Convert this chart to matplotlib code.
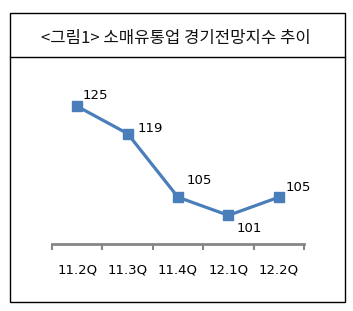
import matplotlib
matplotlib.use('Agg')
import matplotlib.pyplot as plt
from matplotlib.patches import Rectangle
from matplotlib.lines import Line2D

plt.rcParams['font.family'] = ['Noto Sans CJK KR', 'DejaVu Sans']

title = "<그림1> 소매유통업 경기전망지수 추이"
quarters = ["11.2Q", "11.3Q", "11.4Q", "12.1Q", "12.2Q"]
index_values = [125, 119, 105, 101, 105]

W, H = 353, 311
fig = plt.figure(figsize=(W / 100, H / 100), dpi=100)

# outer frame and title band (pixel coords converted to figure fraction)
def fx(px):
    return px / W

def fy(py):
    return 1 - py / H

fig.patches.append(Rectangle((fx(9.5), fy(302)), fx(345) - fx(9.5), fy(13) - fy(302),
                             transform=fig.transFigure, fill=False,
                             edgecolor='black', linewidth=1.0))
fig.lines.append(Line2D([fx(9.5), fx(345)], [fy(57), fy(57)],
                        transform=fig.transFigure, color='black', linewidth=1.0))
fig.text(fx(176), fy(38), title, ha='center', va='center', fontsize=12,
         color='#111111', fontweight='medium')

ax = fig.add_axes([fx(52), fy(244), fx(304) - fx(52), fy(70) - fy(244)])
x = list(range(len(quarters)))
color = '#4A7EBB'
ax.plot(x, index_values, color=color, linewidth=2.3, marker='s',
        markersize=6.5, markeredgecolor=color, markerfacecolor=color)

ax.set_xlim(-0.5, len(quarters) - 0.5)
ax.set_ylim(94.7, 133)

# label offsets in points (dx, dy)
offsets = [(13, 8), (16, 3.5), (15, 12), (15, -9.5), (14, 7)]
for xi, v, (dx, dy) in zip(x, index_values, offsets):
    ax.annotate(str(v), (xi, v), xytext=(dx, dy), textcoords='offset points',
                ha='center', va='center', fontsize=9.5, color='black',
                family='DejaVu Sans')

for s in ['top', 'right', 'left']:
    ax.spines[s].set_visible(False)
ax.spines['bottom'].set_color('#868686')
ax.spines['bottom'].set_linewidth(2)
ax.set_yticks([])
ax.set_xticks([i - 0.5 for i in range(len(quarters) + 1)])
ax.set_xticklabels([])
ax.set_xticks(x, minor=True)
ax.set_xticklabels(quarters, minor=True, fontsize=9.5, family='DejaVu Sans')
ax.tick_params(axis='x', which='major', length=4, width=1.5, color='#868686',
               direction='out')
ax.tick_params(axis='x', which='minor', length=0, pad=14)

fig.savefig('out.png', dpi=100)
